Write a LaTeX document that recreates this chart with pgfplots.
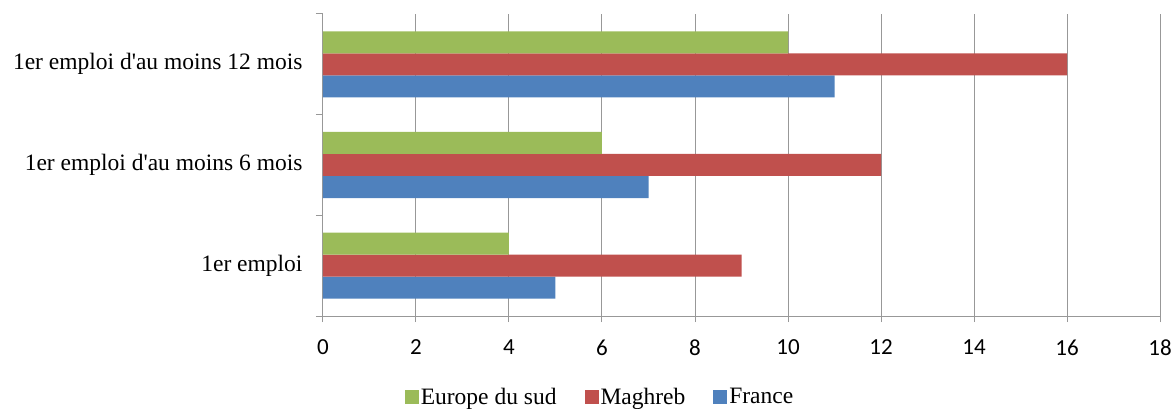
\documentclass[border=0pt]{standalone}
\usepackage{fontspec}
\setmainfont{Liberation Serif}
\newfontfamily\calib{Carlito}
\usepackage{pgfplots}
\pgfplotsset{compat=1.18}
\definecolor{cgreen}{HTML}{9BBB59}
\definecolor{cred}{HTML}{C0504D}
\definecolor{cblue}{HTML}{4F81BD}
\definecolor{cgrid}{HTML}{989898}
\begin{document}
\begin{tikzpicture}
\useasboundingbox (-323bp,-93bp) rectangle (850bp,316bp);
\begin{axis}[
  scale only axis,
  width=837bp, height=302bp,
  xbar=0pt, bar width=22bp,
  xmin=0, xmax=18, ymin=-0.5, ymax=2.5,
  xtick={0,2,...,18},
  ytick={0,1,2},
  yticklabels={1er emploi, 1er emploi d\textquotesingle au moins 6 mois, 1er emploi d\textquotesingle au moins 12 mois},
  minor ytick={-0.5,0.5,1.5,2.5},
  axis x line=bottom, axis y line=left,
  axis line style={-, draw=cgrid, line width=1bp},
  xmajorgrids, major grid style={draw=cgrid, line width=1bp},
  tick align=outside,
  major tick length=6bp, minor tick length=7bp,
  x tick style={draw=cgrid, line width=1bp},
  y tick style={draw=none},
  minor y tick style={draw=cgrid, line width=1bp},
  xticklabel style={font=\calib\fontsize{23bp}{27bp}\selectfont, yshift=-14bp},
  yticklabel style={font=\fontsize{23.5bp}{27bp}\selectfont, xshift=-11bp},
  /pgf/number format/assume math mode=true,
  reverse legend,
  legend columns=-1,
  legend style={at={(0.331,-0.268)}, anchor=center, draw=none, fill=none,
    font=\fontsize{23.5bp}{27bp}\selectfont,
    /tikz/every even column/.append style={column sep=26bp}},
  legend image code/.code={\fill[#1] (0bp,-7bp) rectangle (14bp,7bp);},
]
\addplot[draw=none, fill=cblue] coordinates {(5,0) (7,1) (11,2)};
\addplot[draw=none, fill=cred] coordinates {(9,0) (12,1) (16,2)};
\addplot[draw=none, fill=cgreen] coordinates {(4,0) (6,1) (10,2)};
\legend{France, Maghreb, Europe du sud}
\end{axis}
\end{tikzpicture}
\end{document}
